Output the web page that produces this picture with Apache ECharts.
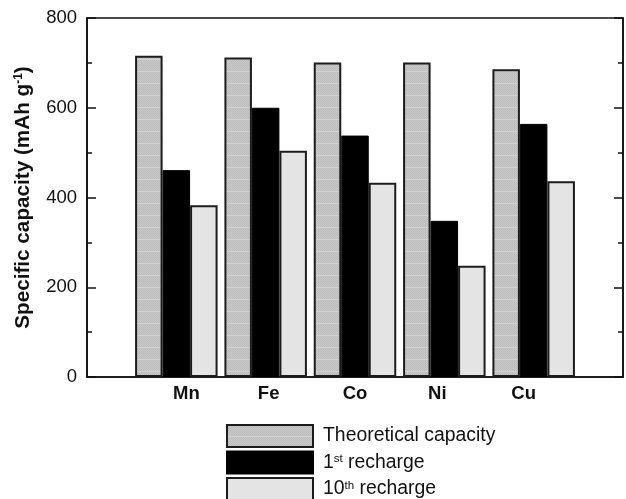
<!DOCTYPE html>
<html>
<head>
<meta charset="utf-8">
<script src="https://cdn.jsdelivr.net/npm/echarts@6/dist/echarts.min.js"></script>
<style>
  html, body { margin: 0; padding: 0; background: #fff; }
  #chart { width: 626px; height: 499px; }
</style>
</head>
<body>
<div id="chart"></div>
<script>
// Specific capacity of the metal-doped samples (mAh g-1)
const categories = ['Mn', 'Fe', 'Co', 'Ni', 'Cu'];
const theoretical = [716, 712, 701, 701, 686];
const firstRecharge = [461, 600, 538, 348, 564];
const tenthRecharge = [383, 504, 433, 248, 436];
const seriesNames = ['Theoretical capacity', '1st recharge', '10th recharge'];
const yMin = 0, yMax = 800, yStep = 200;

// horizontal nudge (px) of each element label under its bar group
const labelNudge = [10, 3, 0, -7, -10];

const FONT = '"Liberation Sans", Arial, Helvetica, sans-serif';

// fine stippled grey fill used for the theoretical-capacity bars
function stipple() {
  const c = document.createElement('canvas');
  c.width = 4; c.height = 12;
  const g = c.getContext('2d');
  for (let y = 0; y < 12; y++) {
    for (let x = 0; x < 4; x++) {
      g.fillStyle = ((x + y) % 2 === 0) ? '#bdbdbd' : '#c8c8c8';
      g.fillRect(x, y, 1, 1);
    }
  }
  g.fillStyle = '#d2d2d2';
  g.fillRect(0, 11, 4, 1);
  return c;
}

// category axis padded by an empty slot on each side so groups sit on grid lines
const xData = [''].concat(categories, ['']);
const pad = arr => [null].concat(arr, [null]);

const rich = {};
categories.forEach((c, i) => {
  const n = labelNudge[i];
  rich['c' + i] = {
    fontFamily: FONT, fontSize: 18.5, fontWeight: 'bold', color: '#111',
    padding: n >= 0 ? [0, 0, 0, 2 * n] : [0, -2 * n, 0, 0]
  };
});

const legendText = {
  'Theoretical capacity': 'Theoretical capacity',
  '1st recharge': '1{sup|st} recharge',
  '10th recharge': '10{sup|th} recharge'
};

// one legend block per series, stacked downward
const legendTop = [424, 450.5, 477];
const legends = seriesNames.map((name, i) => ({
  orient: 'vertical',
  left: 226, top: legendTop[i],
  itemWidth: 86, itemHeight: 22,
  icon: 'rect',
  selectedMode: false,
  padding: 0,
  formatter: n => legendText[n],
  textStyle: {
    fontFamily: FONT, fontSize: 19.4, color: '#111', padding: [0, 0, 0, 5],
    rich: {
      sup: { fontFamily: FONT, fontSize: 11.5, color: '#111', verticalAlign: 'top', lineHeight: 14 }
    }
  },
  data: [name]
}));

const chart = echarts.init(document.getElementById('chart'), null, { renderer: 'canvas' });

const edge = '#1c1c1c';

chart.setOption({
  animation: false,
  backgroundColor: '#fff',
  grid: {
    left: 87, right: 2, top: 18, bottom: 122,
    show: true, borderColor: '#111', borderWidth: 1.6, backgroundColor: 'transparent'
  },
  legend: legends,
  xAxis: {
    type: 'category',
    data: xData,
    boundaryGap: false,
    axisLine: { show: true, lineStyle: { color: '#111', width: 1.6 } },
    axisTick: { show: false },
    splitLine: { show: false },
    axisLabel: {
      interval: 0,
      margin: 7,
      formatter: v => {
        const i = categories.indexOf(v);
        return i < 0 ? '' : '{c' + i + '|' + v + '}';
      },
      rich: rich
    }
  },
  yAxis: [
    {
      type: 'value',
      min: yMin, max: yMax, interval: yStep,
      position: 'left',
      name: 'Specific capacity (mAh g{sup|-1})',
      nameLocation: 'middle',
      nameGap: 53,
      nameRotate: 90,
      nameTextStyle: {
        fontFamily: FONT, fontSize: 20.7, fontWeight: 'bold', color: '#111',
        rich: {
          sup: { fontFamily: FONT, fontSize: 12, fontWeight: 'bold', color: '#111', verticalAlign: 'top', lineHeight: 15 }
        }
      },
      axisLine: { show: true, lineStyle: { color: '#111', width: 1.6 } },
      axisTick: { show: true, inside: true, length: 9, lineStyle: { color: '#111', width: 1.5 } },
      minorTick: { show: true, splitNumber: 2, length: 5, lineStyle: { color: '#111', width: 1.5 } },
      splitLine: { show: false },
      minorSplitLine: { show: false },
      axisLabel: { fontFamily: FONT, fontSize: 18.5, color: '#111', margin: 10 }
    },
    {
      type: 'value',
      min: yMin, max: yMax, interval: yStep,
      position: 'right',
      axisLine: { show: true, lineStyle: { color: '#111', width: 1.6 } },
      axisTick: { show: true, inside: true, length: 9, lineStyle: { color: '#111', width: 1.5 } },
      minorTick: { show: true, splitNumber: 2, length: 5, lineStyle: { color: '#111', width: 1.5 } },
      splitLine: { show: false },
      axisLabel: { show: false }
    }
  ],
  series: [
    {
      name: seriesNames[0], type: 'bar', barWidth: 27.5, barGap: '0%',
      data: pad(theoretical),
      itemStyle: { color: { image: stipple(), repeat: 'repeat' }, borderColor: edge, borderWidth: 2 }
    },
    {
      name: seriesNames[1], type: 'bar', barWidth: 27.5, barGap: '0%',
      data: pad(firstRecharge),
      itemStyle: { color: '#000', borderColor: '#000', borderWidth: 1 }
    },
    {
      name: seriesNames[2], type: 'bar', barWidth: 27.5, barGap: '0%',
      data: pad(tenthRecharge),
      itemStyle: { color: '#e4e4e4', borderColor: edge, borderWidth: 2 }
    }
  ]
});
</script>
</body>
</html>
